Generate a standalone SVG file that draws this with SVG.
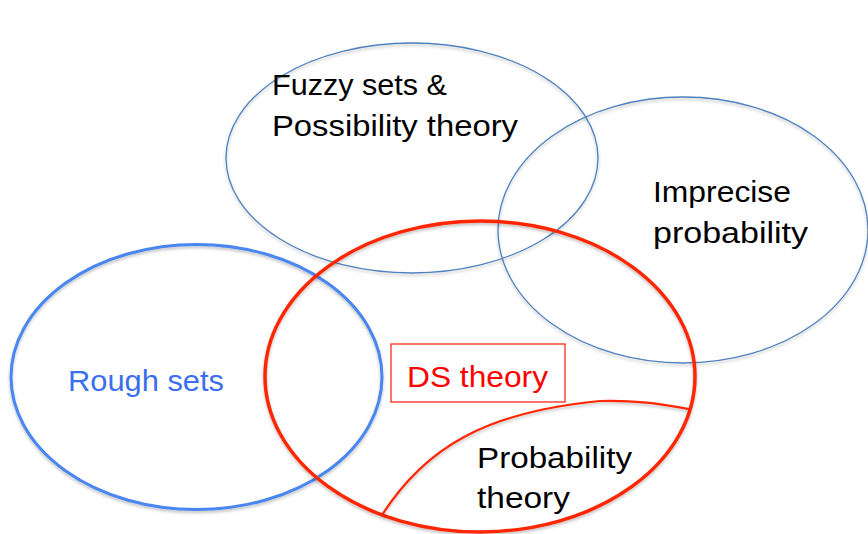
<svg xmlns="http://www.w3.org/2000/svg" width="868" height="534" viewBox="0 0 868 534">
  <defs>
    <filter id="sh" x="-10%" y="-10%" width="120%" height="120%">
      <feDropShadow dx="0" dy="2" stdDeviation="1.5" flood-color="#000" flood-opacity="0.25"/>
    </filter>
  </defs>
  <style>
    .thin { fill: none; stroke: #4F81BD; stroke-width: 1.3; }
    .rough { fill: none; stroke: #4A86F0; stroke-width: 3; }
    .ds { fill: none; stroke: #FF2600; stroke-width: 3.5; }
    .curve { fill: none; stroke: #FF2600; stroke-width: 2.2; }
    .box { fill: #fff; stroke: #FF2A1A; stroke-width: 1.3; }
    text { font-family: "Liberation Sans", "Open Sans", Arial, sans-serif; font-size: 29px; }
    .blk { fill: #000; }
    .blu { fill: #3B6FF0; }
    .red { fill: #FF0000; }
  </style>
  <rect width="868" height="534" fill="#fff"/>
  <g id="fuzzy">
    <ellipse class="thin" cx="412" cy="158" rx="186" ry="115" filter="url(#sh)"/>
    <text class="blk" x="272" y="95" textLength="175" lengthAdjust="spacingAndGlyphs">Fuzzy sets &amp;</text>
    <text class="blk" x="272" y="136" textLength="246" lengthAdjust="spacingAndGlyphs">Possibility theory</text>
  </g>
  <g id="imprecise">
    <ellipse class="thin" cx="683" cy="230" rx="185" ry="133" filter="url(#sh)"/>
    <text class="blk" x="653" y="202" textLength="138" lengthAdjust="spacingAndGlyphs">Imprecise</text>
    <text class="blk" x="653" y="243" textLength="155" lengthAdjust="spacingAndGlyphs">probability</text>
  </g>
  <g id="rough">
    <ellipse class="rough" cx="196.5" cy="377" rx="185.5" ry="132.5" filter="url(#sh)"/>
    <text class="blu" x="68" y="391" textLength="156" lengthAdjust="spacingAndGlyphs">Rough sets</text>
  </g>
  <g id="ds">
    <ellipse class="ds" cx="480" cy="376.5" rx="215" ry="155.5" filter="url(#sh)"/>
    <rect class="box" x="391" y="344" width="174" height="58"/>
    <text class="red" x="407" y="387" textLength="141" lengthAdjust="spacingAndGlyphs">DS theory</text>
  </g>
  <g id="connectors">
    <path class="curve" d="M382,515 C425,448 485,412 600,401 C640,400 665,405 689,409" filter="url(#sh)"/>
  </g>
  <g id="probability">
    <text class="blk" x="477" y="468" textLength="155" lengthAdjust="spacingAndGlyphs">Probability</text>
    <text class="blk" x="477" y="508" textLength="93" lengthAdjust="spacingAndGlyphs">theory</text>
  </g>
</svg>
